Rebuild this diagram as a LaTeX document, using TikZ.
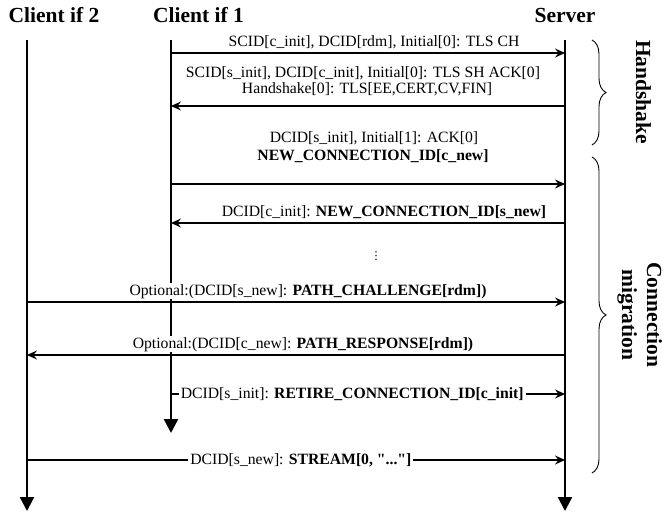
\documentclass[tikz,border=0pt]{standalone}
\usepackage{fontspec}
\setmainfont{Liberation Serif}[Ligatures=TeXOff]
\newfontfamily\djv{DejaVu Sans}
\usetikzlibrary{arrows.meta,decorations.pathreplacing}
\begin{document}
\begin{tikzpicture}[x=1pt,y=-1pt,
  lifeline/.style={line width=2.4pt,-{Triangle[length=14pt,width=14pt]}},
  msg/.style={line width=1.2pt,-{Stealth[length=10pt,width=9pt,inset=3.5pt]}},
  lbl/.style={font=\fontsize{15.7}{17}\selectfont, inner sep=1pt, fill=white, anchor=base},
  inl/.style={font=\fontsize{15.7}{17}\selectfont, inner sep=2pt, fill=white},
  ttl/.style={font=\fontsize{21.5}{24}\selectfont\bfseries, anchor=base, inner sep=0pt},
  brc/.style={decorate, decoration={brace, amplitude=14pt}, line width=0.9pt},
  phase/.style={font=\fontsize{21.5}{25}\selectfont\bfseries, rotate=-90, anchor=base, inner sep=0pt}
]
\useasboundingbox (0,0) rectangle (663,515);

% titles
\node[ttl] (t2) at (54,22) {Client if 2};
\node[ttl] (t1) at (198.5,22) {Client if 1};
\node[ttl] (ts) at (565,22) {Server};

% lifelines
\coordinate (c2top) at (27,40);  \coordinate (c2bot) at (27,511);
\coordinate (c1top) at (171,40); \coordinate (c1bot) at (171,433);
\coordinate (stop) at (565,40);  \coordinate (sbot) at (565,511);
\draw[lifeline] (c2top) -- (c2bot);
\draw[lifeline] (c1top) -- (c1bot);
\draw[lifeline] (stop) -- (sbot);

% message end points
\coordinate (c1m1) at (171,53);  \coordinate (sm1) at (565,53);
\coordinate (c1m2) at (171,106); \coordinate (sm2) at (565,106);
\coordinate (c1m3) at (171,184); \coordinate (sm3) at (565,184);
\coordinate (c1m4) at (171,223); \coordinate (sm4) at (565,223);
\coordinate (c2m6) at (27,302);  \coordinate (sm6) at (565,302);
\coordinate (c2m7) at (27,355);  \coordinate (sm7) at (565,355);
\coordinate (c1m8) at (171,394); \coordinate (sm8) at (565,394);
\coordinate (c2m9) at (27,460);  \coordinate (sm9) at (565,460);

% labels
\node[lbl] (l1) at (374,46) {SCID[c\_init], DCID[rdm], Initial[0]: TLS CH};
\node[lbl] (l2a) at (363,77) {SCID[s\_init], DCID[c\_init], Initial[0]: TLS SH ACK[0]};
\node[lbl] (l2b) at (367,93) {Handshake[0]: TLS[EE,CERT,CV,FIN]};
\node[lbl] (l3a) at (374,142) {DCID[s\_init], Initial[1]: ACK[0]};
\node[lbl] (l3b) at (373,160) {\textbf{NEW\_CONNECTION\_ID[c\_new]}};
\node[lbl] (l4) at (384,216) {DCID[c\_init]: \textbf{NEW\_CONNECTION\_ID[s\_new]}};
\node[inner sep=0pt] (dots) at (376,256) {\djv\fontsize{11}{11}\selectfont ⋮};
\node[lbl] (l6) at (308,295) {Optional:(DCID[s\_new]: \textbf{PATH\_CHALLENGE[rdm])}};
\node[lbl] (l7) at (303,348) {Optional:(DCID[c\_new]: \textbf{PATH\_RESPONSE[rdm])}};

% messages
\draw[msg] (c1m1) -- (sm1);
\draw[msg] (sm2) -- (c1m2);
\draw[msg] (c1m3) -- (sm3);
\draw[msg] (sm4) -- (c1m4);
\draw[msg] (c2m6) -- (sm6);
\draw[msg] (sm7) -- (c2m7);
\draw[msg] (c1m8) -- node[inl, pos=0.46] (l8) {DCID[s\_init]: \textbf{RETIRE\_CONNECTION\_ID[c\_init]}} (sm8);
\draw[msg] (c2m9) -- node[inl, pos=0.509] (l9) {DCID[s\_new]: \textbf{STREAM[0, "..."]}} (sm9);

% braces
\coordinate (hb1) at (592,40);  \coordinate (hb2) at (592,145);
\coordinate (cb1) at (592,157); \coordinate (cb2) at (592,473);
\draw[brc] (hb1) -- (hb2);
\draw[brc] (cb1) -- (cb2);
\node[phase] (ph1) at (636,92) {Handshake};
\node[phase] (ph2a) at (647,315) {Connection};
\node[phase] (ph2b) at (622,315) {migration};
\end{tikzpicture}
\end{document}
